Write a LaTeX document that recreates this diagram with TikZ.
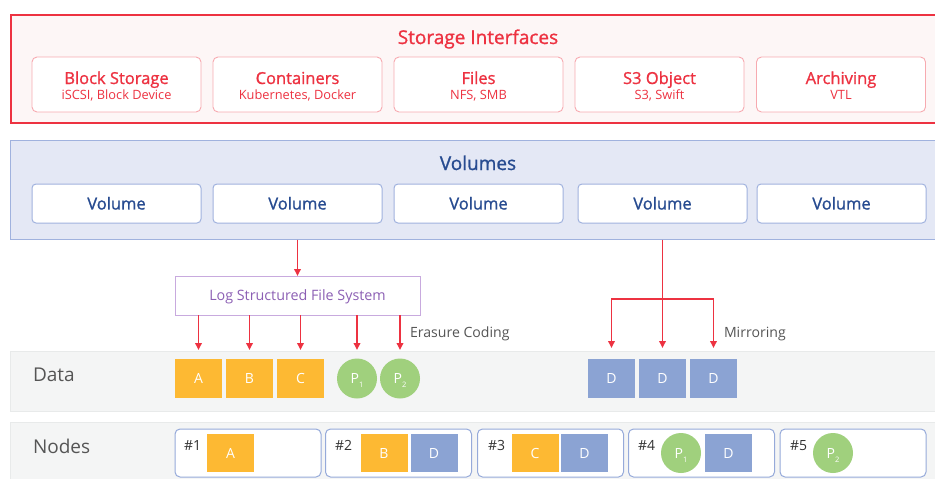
\documentclass[tikz,border=0pt]{standalone}
\usepackage{fontspec}
\setmainfont{Open Sans}
\newfontfamily\semib{Open Sans}[FakeBold=1.1]
\usetikzlibrary{arrows.meta}

\definecolor{ifred}{RGB}{237,50,65}
\definecolor{ifbg}{RGB}{253,246,246}
\definecolor{ifsoft}{RGB}{247,170,176}
\definecolor{volbg}{RGB}{228,232,245}
\definecolor{volline}{RGB}{160,178,222}
\definecolor{voltext}{RGB}{40,76,145}
\definecolor{lsline}{RGB}{200,170,222}
\definecolor{lstext}{RGB}{140,95,180}
\definecolor{blkorange}{RGB}{253,185,51}
\definecolor{blkgreen}{RGB}{160,208,125}
\definecolor{blkblue}{RGB}{139,163,211}
\definecolor{bandbg}{RGB}{244,245,245}
\definecolor{bandline}{RGB}{232,234,234}
\definecolor{nodeline}{RGB}{150,170,218}
\definecolor{graytext}{RGB}{85,85,85}
\definecolor{darktext}{RGB}{51,51,51}

\newcommand{\fs}[1]{\fontsize{#1}{#1}\selectfont}
\newcommand{\parity}[1]{P\raisebox{-4pt}{\fs{7.5}#1}}

\begin{document}
\begin{tikzpicture}[x=1pt,y=-1pt,
  every node/.style={inner sep=0pt,outer sep=0pt},
  ifframe/.style={draw=ifred,fill=ifbg,line width=2pt,anchor=north west,
    minimum width=935pt,minimum height=108pt},
  ifbox/.style={draw=ifsoft,fill=white,line width=0.9pt,rounded corners=5pt,
    minimum width=169pt,minimum height=55pt},
  iftitle/.style={text=ifred,font=\semib\fs{16.5},anchor=base},
  ifsub/.style={text=ifred,font=\fs{12.8},anchor=base},
  volframe/.style={draw=volline,fill=volbg,line width=1pt,anchor=north west,
    minimum width=935pt,minimum height=99pt},
  volbox/.style={draw=volline,fill=white,line width=1pt,rounded corners=4pt,
    minimum width=169pt,minimum height=39pt,text=voltext,font=\semib\fs{16.5},
    text height=11.9pt,text depth=0pt},
  lsbox/.style={draw=lsline,fill=white,line width=1pt,
    minimum width=245pt,minimum height=39pt,text=lstext,font=\fs{14.3},
    text height=10.3pt,text depth=0pt},
  band/.style={draw=bandline,fill=bandbg,line width=0.8pt,anchor=north west,
    minimum width=935pt},
  bandlabel/.style={text=graytext,font=\fs{19},anchor=base west},
  blocktext/.style={text=white,font=\fs{14},text height=10pt,text depth=0pt},
  sq/.style={blocktext,rectangle,minimum width=47pt,minimum height=39pt},
  nsq/.style={blocktext,rectangle,minimum width=47pt,minimum height=38pt},
  sqA/.style={sq,fill=blkorange},
  sqD/.style={sq,fill=blkblue},
  par/.style={blocktext,circle,fill=blkgreen,minimum size=40pt},
  nbox/.style={draw=nodeline,fill=white,line width=1pt,rounded corners=5pt,
    minimum height=48pt,minimum width=146pt},
  nlabel/.style={text=darktext,font=\fs{14},anchor=base west},
  steplabel/.style={text=graytext,font=\fs{14.1},anchor=base west},
  arr/.style={draw=ifred,line width=1.8pt,-{Triangle[length=7pt,width=6.5pt]}}
]
\useasboundingbox (0,0) rectangle (935,479);
\clip (0,0) rectangle (935,479);

% ---- storage interfaces ----
\node[ifframe] (ifaces) at (11,15) {};
\node[text=ifred,font=\semib\fs{19},anchor=base] (iftitle) at (478,44) {Storage Interfaces};
\foreach \nm/\cx/\ttl/\sub in {blk/116.5/Block Storage/{iSCSI, Block Device},
    cnt/297.5/Containers/{Kubernetes, Docker},
    fil/478.5/Files/{NFS, SMB},
    sobj/659.5/S3 Object/{S3, Swift},
    arc/841/Archiving/VTL}{
  \node[ifbox] (\nm) at (\cx,84.5) {};
  \node[iftitle] (\nm-t) at (\cx,84) {\ttl};
  \node[ifsub] (\nm-s) at (\cx,99) {\sub};
}

% ---- volumes ----
\node[volframe] (vols) at (10.5,140.5) {};
\node[text=voltext,font=\semib\fs{19},anchor=base] (voltitle) at (478,170) {Volumes};
\foreach \nm/\cx in {v1/116.5,v2/297.5,v3/478.5,v4/662.5,v5/841.5}{
  \node[volbox] (\nm) at (\cx,203.5) {Volume};
}

% ---- log structured file system ----
\node[lsbox] (lsfs) at (297.5,295.5) {Log Structured File System};

% ---- data band ----
\node[band,minimum height=60pt] (databand) at (10,351) {};
\node[bandlabel] (datalabel) at (33,381) {Data};
\node[sqA] (a) at (198.5,378.5) {A};
\node[sqA] (b) at (249.5,378.5) {B};
\node[sqA] (c) at (300.5,378.5) {C};
\node[par] (p1) at (357,378.5) {\parity{1}};
\node[par] (p2) at (400,378.5) {\parity{2}};
\node[sqD] (d1) at (611.5,378.5) {D};
\node[sqD] (d2) at (662.5,378.5) {D};
\node[sqD] (d3) at (713.5,378.5) {D};

% ---- nodes band ----
\node[band,minimum height=70pt] (nodeband) at (10,422) {};
\node[bandlabel] (nodelabel) at (33,453) {Nodes};

\node[nbox] (n1) at (248,453) {};
\node[nbox] (n2) at (398.5,453) {};
\node[nbox] (n3) at (550.5,453) {};
\node[nbox] (n4) at (701.5,453) {};
\node[nbox] (n5) at (853,453) {};
\node[nlabel] (n1l) at (184,450) {\#1};
\node[nlabel] (n2l) at (335,450) {\#2};
\node[nlabel] (n3l) at (488,450) {\#3};
\node[nlabel] (n4l) at (638,450) {\#4};
\node[nlabel] (n5l) at (790,450) {\#5};

\node[nsq,fill=blkorange] (n1a) at (230.5,453) {A};
\node[nsq,fill=blkorange] (n2b) at (384,453) {B};
\node[nsq,fill=blkblue]   (n2d) at (434,453) {D};
\node[nsq,fill=blkorange] (n3c) at (535,453) {C};
\node[nsq,fill=blkblue]   (n3d) at (584.5,453) {D};
\node[par] (n4p) at (681,453) {\parity{1}};
\node[nsq,fill=blkblue]   (n4d) at (728.5,453) {D};
\node[par] (n5p) at (833,453) {\parity{2}};

% ---- erasure coding path ----
\draw[arr] (lsfs.north |- vols.south) -- (lsfs.north);
\foreach \t in {a,b,c,p1,p2}{
  \draw[arr] (\t.north |- lsfs.south) -- (\t.north |- 0,350);
}
\node[steplabel] (eclabel) at (410,337) {Erasure Coding};

% ---- mirroring path ----
\coordinate (split) at (d2.north |- 0,299);
\draw[arr] (d2.north |- vols.south) -- (d2.north |- 0,348);
\draw[arr] (split) -| (d1.north |- 0,348);
\draw[arr] (split) -| (d3.north |- 0,348);
\node[steplabel] (mirlabel) at (724,337) {Mirroring};
\end{tikzpicture}
\end{document}
